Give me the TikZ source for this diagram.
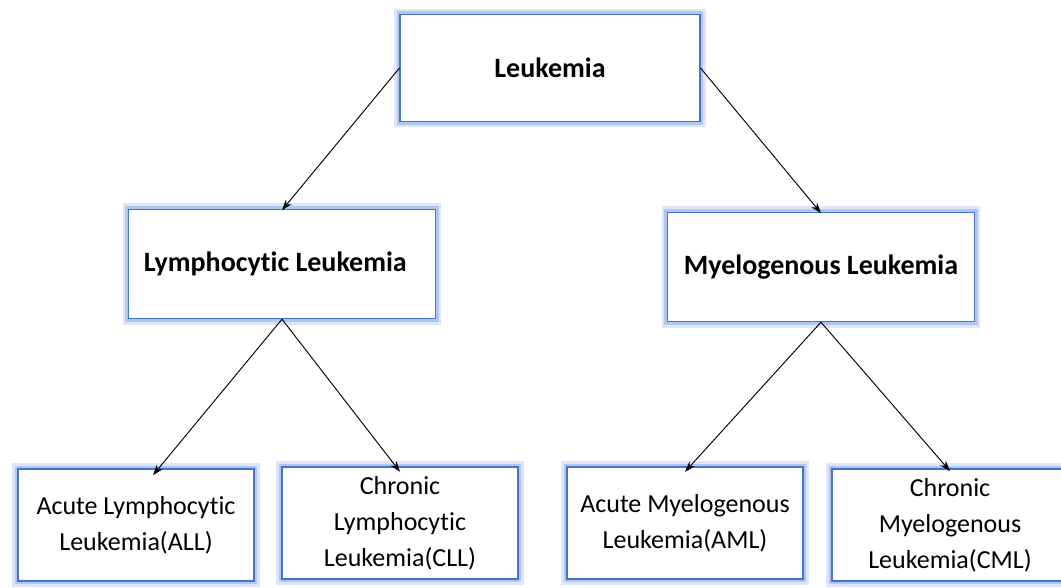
\documentclass[tikz,border=0pt]{standalone}
\usepackage{fontspec}
\setmainfont[Ligatures=NoCommon]{Carlito}
\usetikzlibrary{arrows.meta}
\definecolor{glowblue}{RGB}{120,160,235}
\definecolor{edgeblue}{RGB}{70,115,210}
\tikzset{
	glowbox/.style={
		preaction={draw=glowblue, line width=9pt, opacity=0.25},
		preaction={draw=glowblue, line width=5pt, opacity=0.45},
		draw=edgeblue, line width=0.8pt, fill=white,
		align=center, inner sep=0pt},
	topbox/.style={glowbox, minimum width=225pt, minimum height=80pt,
		font=\fontsize{21}{26}\selectfont\bfseries},
	midbox/.style={glowbox, minimum width=230pt, minimum height=82pt,
		font=\fontsize{21}{26}\selectfont\bfseries},
	leafbox/.style={glowbox, minimum width=177pt, minimum height=84pt,
		font=\fontsize{19.5}{27}\selectfont},
	branch/.style={draw=black, line width=0.7pt,
		-{Stealth[length=8pt,width=5.5pt]}}
}
\begin{document}
\begin{tikzpicture}[x=0.75pt,y=0.75pt,yscale=-1,xscale=1]
\useasboundingbox (0,0) rectangle (1061,587);

% boxes
\node[topbox] (leuk) at (550,68) {Leukemia};
\node[midbox] (lymph) at (282,264) {Lymphocytic Leukemia\hspace{10pt}};
\node[midbox] (myel) at (821,267) {Myelogenous Leukemia};
\node[leafbox] (all) at (136,525) {Acute Lymphocytic\\Leukemia(ALL)};
\node[leafbox] (cll) at (400,523) {Chronic\\Lymphocytic\\Leukemia(CLL)};
\node[leafbox] (aml) at (685,523) {Acute Myelogenous\\Leukemia(AML)};
\node[leafbox] (cml) at (950,525) {Chronic\\Myelogenous\\Leukemia(CML)};

% arrows
\draw[branch] (leuk.west) -- ([yshift=1pt]lymph.north);
\draw[branch] (leuk.east) -- ([yshift=1pt]myel.north);
\draw[branch] (lymph.south) -- ([xshift=12.75pt,yshift=5pt]all.north);
\draw[branch] (lymph.south) -- ([yshift=4pt]cll.north);
\draw[branch] (myel.south) -- ([yshift=4pt]aml.north);
\draw[branch] (myel.south) -- ([yshift=2pt]cml.north);
\end{tikzpicture}
\end{document}
